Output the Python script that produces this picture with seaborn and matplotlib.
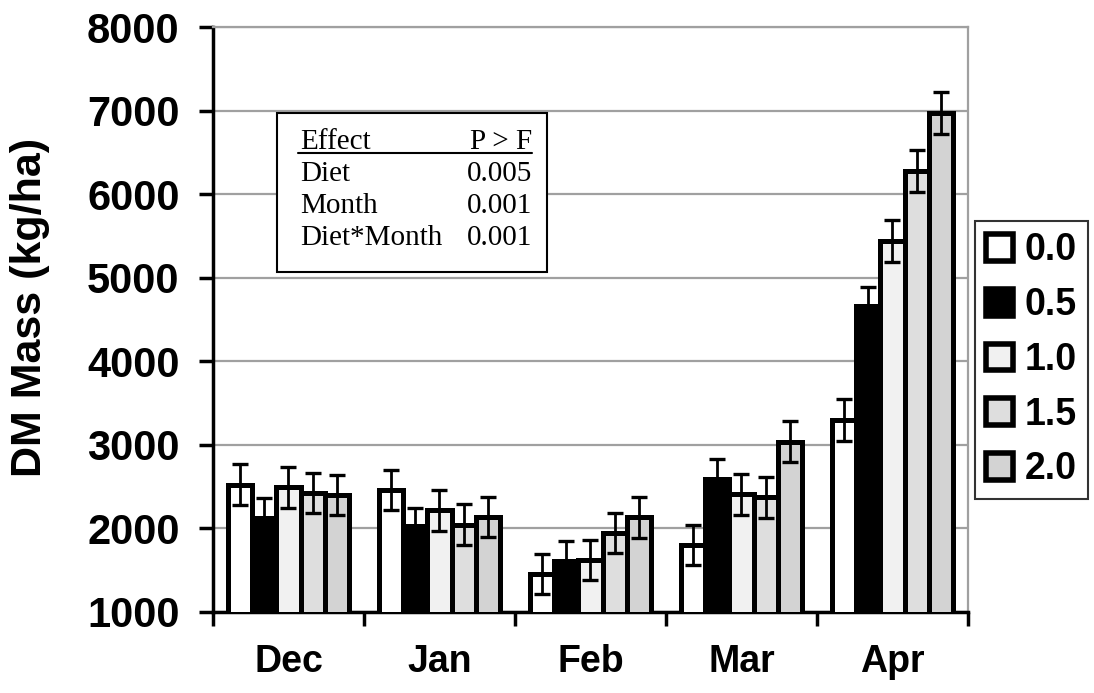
import numpy as np
import pandas as pd
import matplotlib
matplotlib.use("Agg")
import matplotlib.pyplot as plt
from matplotlib.patches import Patch, Rectangle
from matplotlib.lines import Line2D
import seaborn as sns

# ---- data ----
months = ["Dec", "Jan", "Feb", "Mar", "Apr"]
diets = ["0.0", "0.5", "1.0", "1.5", "2.0"]
mass_00 = [2520, 2460, 1455, 1800, 3300]
mass_05 = [2130, 2030, 1615, 2590, 4660]
mass_10 = [2490, 2215, 1620, 2410, 5440]
mass_15 = [2420, 2045, 1950, 2375, 6280]
mass_20 = [2400, 2135, 2135, 3035, 6970]
se_00 = [245, 245, 240, 240, 250]
se_05 = [230, 220, 235, 240, 230]
se_10 = [240, 245, 240, 245, 255]
se_15 = [240, 245, 240, 245, 250]
se_20 = [245, 240, 245, 245, 250]
yticks = [1000, 2000, 3000, 4000, 5000, 6000, 7000, 8000]
effects = ["Diet", "Month", "Diet*Month"]
pvalues = ["0.005", "0.001", "0.001"]

masses = [mass_00, mass_05, mass_10, mass_15, mass_20]
ses = [se_00, se_05, se_10, se_15, se_20]
df = pd.DataFrame({
    "Month": [m for _ in diets for m in months],
    "Diet": [d for d in diets for _ in months],
    "Mass": [v for row in masses for v in row],
})

colors = ["#ffffff", "#000000", "#f1f1f1", "#dedede", "#d3d3d3"]

sns.set_style("white")
plt.rcParams["font.family"] = ["Liberation Sans", "DejaVu Sans"]
plt.rcParams["font.weight"] = "bold"
for k in ["text.color", "axes.labelcolor", "xtick.color", "ytick.color"]:
    plt.rcParams[k] = "black"

fig = plt.figure(figsize=(10.94, 6.93), dpi=100)
ax = fig.add_axes([0.1947, 0.1169, 0.6901, 0.8441])

sns.barplot(data=df, x="Month", y="Mass", hue="Diet", order=months,
            hue_order=diets, palette=dict(zip(diets, colors)),
            saturation=1, edgecolor="black", linewidth=3.6, errorbar=None,
            width=0.8, ax=ax, legend=False, zorder=3)

for cont, err in zip(ax.containers, ses):
    xs = [b.get_x() + b.get_width() / 2 for b in cont]
    ys = [b.get_y() + b.get_height() for b in cont]
    ax.errorbar(xs, ys, yerr=err, fmt="none", ecolor="black",
                elinewidth=2.0, capsize=5.8, capthick=2.4, zorder=6)

ax.set_ylim(1000, 8000)
ax.set_xlim(-0.5, 4.5)
ax.set_yticks(yticks)
ax.set_yticklabels([str(t) for t in yticks], fontsize=30, fontweight="bold")
ax.yaxis.grid(True, color="#a0a0a0", linewidth=1.6, zorder=0)
ax.set_axisbelow(True)

ax.set_xticks(np.arange(-0.5, 5, 1))
ax.set_xticklabels([""] * 6)
ax.set_xticks(range(len(months)), minor=True)
ax.set_xticklabels(months, minor=True, fontsize=27, fontweight="bold")
ax.tick_params(axis="x", which="major", direction="out", length=10, width=2.5,
               color="black", bottom=True)
ax.tick_params(axis="x", which="minor", length=0, pad=23)
ax.tick_params(axis="y", direction="out", length=10, width=2.5, color="black",
               left=True, pad=14)
ax.set_xlabel("")

ax.set_ylabel("DM Mass (kg/ha)", fontsize=31, fontweight="bold")
ax.yaxis.set_label_coords(-0.243, 0.52)
ax.yaxis.label.set_va("center")

for s in ["left", "bottom"]:
    ax.spines[s].set_color("black")
    ax.spines[s].set_linewidth(2.5)
for s in ["top", "right"]:
    ax.spines[s].set_color("#a0a0a0")
    ax.spines[s].set_linewidth(1.6)

# legend
handles = [Patch(facecolor=c, edgecolor="black", linewidth=4, label=d)
           for c, d in zip(colors, diets)]
leg = fig.legend(handles=handles, loc="center left",
                 bbox_to_anchor=(975 / 1094, 1 - 360 / 693), frameon=True,
                 fancybox=False, edgecolor="black", fontsize=27,
                 handlelength=0.72, handleheight=0.72, handletextpad=0.3,
                 labelspacing=0.5, borderpad=0.3, borderaxespad=0)
leg.get_frame().set_linewidth(1.5)
for t in leg.get_texts():
    t.set_fontweight("bold")

# statistics inset
box = Rectangle((277 / 1094, 1 - 272 / 693), (547 - 277) / 1094, (272 - 113) / 693,
                transform=fig.transFigure, facecolor="white", edgecolor="black",
                linewidth=1.5, zorder=4)
ax.add_patch(box)
serif = dict(family="Liberation Serif", fontsize=21, fontweight="normal")
xl, xr = 300 / 1094, 532 / 1094
fig.text(xl, 1 - 149 / 693, "Effect", ha="left", va="baseline", **serif)
fig.text(xr, 1 - 149 / 693, "P > F", ha="right", va="baseline", **serif)
fig.add_artist(Line2D([298 / 1094, 532 / 1094], [1 - 153 / 693] * 2,
                      color="black", linewidth=1.5, transform=fig.transFigure))
for i, (e, p) in enumerate(zip(effects, pvalues)):
    yb = 1 - (181 + 32 * i) / 693
    fig.text(xl, yb, e, ha="left", va="baseline", **serif)
    fig.text(xr, yb, p, ha="right", va="baseline", **serif)

fig.savefig("out.png", dpi=100)
